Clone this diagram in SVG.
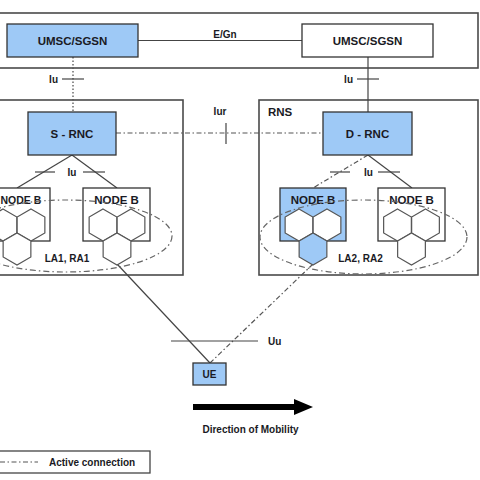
<svg xmlns="http://www.w3.org/2000/svg" width="480" height="480" viewBox="0 0 480 480">
<defs>
<style>
.frame{fill:none;stroke:#4a4a4a;stroke-width:1.6}
.box{fill:#ffffff;stroke:#333333;stroke-width:1.3}
.blue{fill:#9ec9f6;stroke:#333333;stroke-width:1.3}
.hex{fill:#ffffff;stroke:#555555;stroke-width:1.2}
.hexb{fill:#9ec9f6;stroke:#555555;stroke-width:1.2}
.ln{fill:none;stroke:#444444;stroke-width:1.2}
.dot{fill:none;stroke:#555555;stroke-width:1.3;stroke-dasharray:1.5 2}
.dd{fill:none;stroke:#555555;stroke-width:1.2;stroke-dasharray:5 2.5 1.5 2.5}
.ell{fill:none;stroke:#666666;stroke-width:1.2;stroke-dasharray:6 3 1.5 3}
.t{font-family:"Liberation Sans",Arial,sans-serif;font-weight:bold;fill:#1a1a24}
.t11{font-size:11.5px}
.t10{font-size:10px}
.mid{text-anchor:middle}
.end{text-anchor:end}
</style>
<polygon id="hx" points="0,-16 13.86,-8 13.86,8 0,16 -13.86,8 -13.86,-8"/>
</defs>
<rect width="480" height="480" fill="#ffffff"/>

<g id="core-network">
<rect class="frame" x="-5" y="13" width="483" height="55"/>
</g>
<g id="rns-left">
<rect class="frame" x="-5" y="100" width="188" height="175"/>
</g>
<g id="rns-right">
<rect class="frame" x="259" y="100" width="219" height="175"/>
<text class="t t11" x="268" y="116">RNS</text>
</g>

<g id="connectors">
<line class="ln" x1="138" y1="40.5" x2="302" y2="40.5"/>
<line class="dot" x1="73" y1="57" x2="73" y2="112"/>
<line class="ln" x1="62" y1="79" x2="84" y2="79"/>
<line class="ln" x1="368" y1="57" x2="368" y2="112"/>
<line class="ln" x1="357" y1="79" x2="379" y2="79"/>
<line class="dd" x1="116" y1="133" x2="323" y2="133"/>
<line class="ln" x1="226" y1="123" x2="226" y2="144"/>
<line class="ln" x1="72" y1="155" x2="17" y2="188"/>
<line class="ln" x1="72" y1="155" x2="117" y2="188"/>
<line class="ln" x1="35" y1="172" x2="55" y2="172"/>
<line class="ln" x1="83" y1="172" x2="105" y2="172"/>
<line class="dd" x1="368" y1="155" x2="313" y2="188"/>
<line class="ln" x1="368" y1="155" x2="412" y2="188"/>
<line class="ln" x1="330" y1="172" x2="350" y2="172"/>
<line class="ln" x1="378" y1="172" x2="400" y2="172"/>
<line class="ln" x1="117" y1="264" x2="210" y2="363"/>
<line class="dd" x1="313" y1="264" x2="210" y2="363"/>
<line class="ln" x1="171" y1="341" x2="258" y2="341"/>
</g>

<g id="labels">
<text class="t t10 mid" x="225" y="37.5">E/Gn</text>
<text class="t t10 end" x="58" y="83">Iu</text>
<text class="t t10 end" x="353" y="83">Iu</text>
<text class="t t10 mid" x="220" y="115">Iur</text>
<text class="t t10 mid" x="72" y="176">Iu</text>
<text class="t t10 mid" x="368.5" y="176">Iu</text>
<text class="t t10" x="268" y="345">Uu</text>
</g>

<g id="umsc-sgsn-s">
<rect class="blue" x="7" y="24" width="131" height="33"/>
<text class="t t11 mid" x="72.5" y="44.5">UMSC/SGSN</text>
</g>
<g id="umsc-sgsn-d">
<rect class="box" x="302" y="24" width="131" height="33"/>
<text class="t t11 mid" x="367.5" y="44.5">UMSC/SGSN</text>
</g>
<g id="s-rnc">
<rect class="blue" x="28" y="112" width="88" height="43"/>
<text class="t t11 mid" x="72" y="137.5">S - RNC</text>
</g>
<g id="d-rnc">
<rect class="blue" x="323" y="112" width="89" height="43"/>
<text class="t t11 mid" x="367.5" y="137.5">D - RNC</text>
</g>

<g id="nodeb-1">
<rect class="box" x="-17" y="188" width="67" height="53"/>
<text class="t mid" x="20.8" y="203.5" style="font-size:10.5px">NODE B</text>
<use href="#hx" class="hex" x="3" y="225"/>
<use href="#hx" class="hex" x="31" y="225"/>
<use href="#hx" class="hex" x="17" y="249"/>
</g>
<g id="nodeb-2">
<rect class="box" x="83" y="188" width="67" height="53"/>
<text class="t t11 mid" x="116.5" y="203.5">NODE B</text>
<use href="#hx" class="hex" x="103" y="225"/>
<use href="#hx" class="hex" x="131" y="225"/>
<use href="#hx" class="hex" x="117" y="249"/>
</g>
<g id="nodeb-3">
<rect class="blue" x="280" y="188" width="66" height="53"/>
<text class="t t11 mid" x="313" y="203.5">NODE B</text>
<use href="#hx" class="hex" x="299" y="225"/>
<use href="#hx" class="hex" x="327" y="225"/>
<use href="#hx" class="hexb" x="313" y="249"/>
</g>
<g id="nodeb-4">
<rect class="box" x="378" y="188" width="67" height="53"/>
<text class="t t11 mid" x="411.5" y="203.5">NODE B</text>
<use href="#hx" class="hex" x="397.5" y="225"/>
<use href="#hx" class="hex" x="425.5" y="225"/>
<use href="#hx" class="hex" x="411.5" y="249"/>
</g>

<g id="la1-ra1">
<ellipse class="ell" cx="66" cy="236" rx="106" ry="36"/>
<text class="t t10 mid" x="67" y="262">LA1, RA1</text>
</g>
<g id="la2-ra2">
<ellipse class="ell" cx="363.5" cy="237" rx="103.5" ry="37"/>
<text class="t t10 mid" x="360.5" y="262">LA2, RA2</text>
</g>

<g id="ue">
<rect class="blue" x="193" y="363" width="33" height="22"/>
<text class="t t10 mid" x="209.5" y="378">UE</text>
</g>

<g id="mobility">
<line x1="193" y1="407" x2="296" y2="407" stroke="#000000" stroke-width="6"/>
<polygon points="294,399 313,407 294,415" fill="#000000"/>
<text class="t t10 mid" x="250.5" y="433">Direction of Mobility</text>
</g>

<g id="legend">
<rect class="box" x="-5" y="451" width="155" height="22" style="stroke:#444444"/>
<line class="dd" x1="0" y1="462" x2="38" y2="462"/>
<text class="t t10" x="49" y="466">Active connection</text>
</g>
</svg>
